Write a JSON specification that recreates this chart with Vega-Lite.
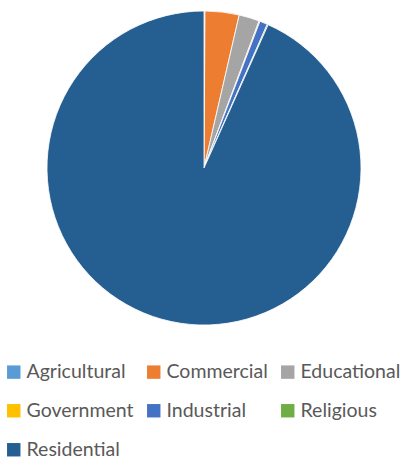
{
  "$schema": "https://vega.github.io/schema/vega-lite/v6.json",
  "width": 404,
  "height": 336,
  "padding": {"left": 2, "top": 0, "right": 0, "bottom": 0},
  "background": "white",
  "view": {"stroke": null},
  "data": {"values": [
    {"category": "Agricultural", "value": 0.1, "ord": 1},
    {"category": "Commercial", "value": 3.5, "ord": 2},
    {"category": "Educational", "value": 2.1, "ord": 3},
    {"category": "Government", "value": 0.1, "ord": 4},
    {"category": "Industrial", "value": 0.8, "ord": 5},
    {"category": "Religious", "value": 0.1, "ord": 6},
    {"category": "Residential", "value": 93.3, "ord": 7}
  ]},
  "mark": {"type": "arc", "outerRadius": 157, "stroke": "white", "strokeWidth": 0.8},
  "encoding": {
    "theta": {"field": "value", "type": "quantitative", "stack": true},
    "order": {"field": "ord", "type": "quantitative"},
    "color": {
      "field": "category", "type": "nominal",
      "scale": {
        "domain": ["Agricultural", "Commercial", "Educational", "Government", "Industrial", "Religious", "Residential"],
        "range": ["#5B9BD5", "#ED7D31", "#A5A5A5", "#FFC000", "#4472C4", "#70AD47", "#255E91"]
      },
      "legend": {
        "title": null,
        "orient": "none",
        "legendX": 2,
        "legendY": 362,
        "direction": "horizontal",
        "columns": 3,
        "symbolType": "square",
        "symbolSize": 180,
        "symbolStrokeWidth": 0,
        "labelFont": "Lato",
        "labelFontSize": 19.5,
        "labelColor": "#595959",
        "labelOffset": 3,
        "labelLimit": 300,
        "rowPadding": 18,
        "columnPadding": 10
      }
    }
  }
}
